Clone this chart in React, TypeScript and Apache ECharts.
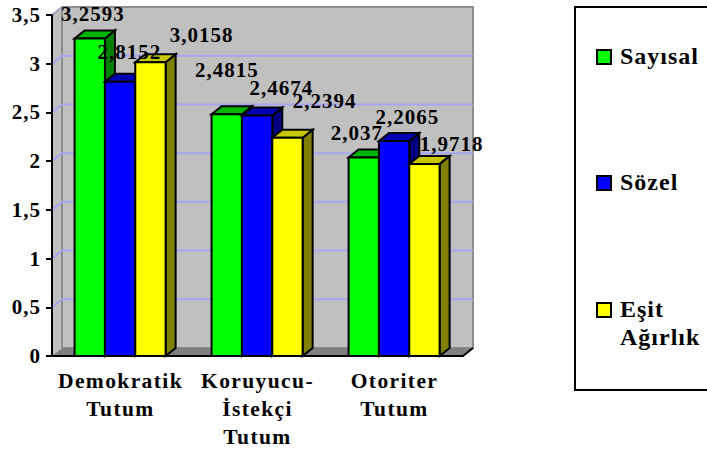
import React, { useEffect, useRef } from "react";
import * as echarts from "echarts";

const categories = ["Demokratik\nTutum", "Koruyucu-\nİstekçi\nTutum", "Otoriter\nTutum"];
const seriesNames = ["Sayısal", "Sözel", "Eşit\nAğırlık"];
const sayisal = [3.2593, 2.4815, 2.037];
const sozel = [2.8152, 2.4674, 2.2065];
const esit = [3.0158, 2.2394, 1.9718];
const gridTicks = [0, 0.5, 1, 1.5, 2, 2.5, 3, 3.5];

const front = ["#00ff00", "#0000ff", "#ffff00"];
const topFace = ["#00b400", "#0000b4", "#c8c800"];
const sideFace = ["#008000", "#000080", "#808000"];
const labelShift = [
  [[3, -24], [0, -44], [-7, -25]],
  [[9, -30], [24, -28], [13, -24]],
  [[51, -27], [37, -37], [27, -20]],
];
const legendY = [57, 183, 310];
const DX = 10;
const DY = -8;
const SERIF = '"Liberation Serif", serif';
const ink = { stroke: "#000", lineWidth: 2 };

function barSeries(values: number[], idx: number) {
  return {
    type: "custom",
    name: seriesNames[idx].replace("\n", " "),
    data: values.map((v, i) => [i, v]),
    encode: { x: 0, y: 1 },
    clip: false,
    renderItem: (_p: any, api: any) => {
      const cat = api.value(0);
      const val = api.value(1);
      const [cx, yTop] = api.coord([cat, val]);
      const [, yBase] = api.coord([cat, 0]);
      const w = api.size([1, 0])[0] * 0.2215;
      const l = cx - 0.4 + (idx - 1.5) * w;
      const r = l + w;
      const [sx, sy] = labelShift[idx][cat];
      return {
        type: "group",
        children: [
          {
            type: "polygon",
            shape: { points: [[r, yBase], [r + DX, yBase + DY], [r + DX, yTop + DY], [r, yTop]] },
            style: { fill: sideFace[idx], ...ink },
          },
          {
            type: "polygon",
            shape: { points: [[l, yTop], [l + DX, yTop + DY], [r + DX, yTop + DY], [r, yTop]] },
            style: { fill: topFace[idx], ...ink },
          },
          {
            type: "rect",
            shape: { x: l, y: yTop, width: w, height: yBase - yTop },
            style: { fill: front[idx], ...ink },
          },
          {
            type: "text",
            x: cx - 0.2 + (idx - 1) * w + sx,
            y: yTop + sy,
            z2: 100,
            style: {
              text: String(val).replace(".", ","),
              font: `bold 21px ${SERIF}`,
              fill: "#000",
              align: "center",
              verticalAlign: "middle",
            },
          },
        ],
      };
    },
  };
}

const wallSeries = {
  type: "custom",
  z: -1,
  silent: true,
  clip: false,
  data: [[0, 0]],
  encode: { x: 0, y: 1 },
  renderItem: (_p: any, api: any) => {
    const halfCat = api.size([1, 0])[0] / 2;
    const [x0c, y0] = api.coord([0, 0]);
    const [x2c] = api.coord([2, 0]);
    const [, yMax] = api.coord([0, 3.5]);
    const left = x0c - halfCat;
    const right = x2c + halfCat;
    const grey = "#c0c0c0";
    const edge = "#8c8c8c";
    const lines = gridTicks.slice(1, -1).map((t) => {
      const y = api.coord([0, t])[1];
      return {
        type: "polyline",
        shape: { points: [[left, y], [left + DX, y + DY], [right + DX, y + DY]] },
        style: { stroke: "#a6a6f2", lineWidth: 2, fill: "none" },
      };
    });
    return {
      type: "group",
      children: [
        {
          type: "polygon",
          shape: { points: [[left, yMax], [left + DX, yMax + DY], [left + DX, y0 + DY], [left, y0]] },
          style: { fill: grey, stroke: "none" },
        },
        {
          type: "rect",
          shape: { x: left + DX, y: yMax + DY, width: right - left, height: y0 - yMax },
          style: { fill: grey, stroke: edge, lineWidth: 2 },
        },
        {
          type: "line",
          shape: { x1: left, y1: yMax, x2: left + DX, y2: yMax + DY },
          style: { stroke: "#a0a0c8", lineWidth: 2 },
        },
        ...lines,
        {
          type: "polygon",
          shape: { points: [[left, y0], [left + DX, y0 + DY], [right + DX, y0 + DY], [right, y0]] },
          style: { fill: "#808080", stroke: "none" },
        },
        {
          type: "line",
          shape: { x1: right, y1: y0, x2: right + DX, y2: y0 + DY },
          style: { stroke: "#000", lineWidth: 2 },
        },
      ],
    };
  },
};

const legendGraphics = [
  {
    type: "rect",
    shape: { x: 575, y: 7, width: 160, height: 383 },
    style: { fill: "#fff", stroke: "#000", lineWidth: 2 },
  },
  ...seriesNames.flatMap((name, i) => [
    {
      type: "rect",
      shape: { x: 597, y: legendY[i] - 7, width: 14, height: 14 },
      style: { fill: front[i], stroke: "#000", lineWidth: 2 },
    },
    {
      type: "text",
      x: 620,
      y: legendY[i] - 15,
      style: {
        text: name,
        font: `bold 24px ${SERIF}`,
        lineHeight: 28,
        fill: "#000",
        align: "left",
        verticalAlign: "top",
      },
    },
  ]),
];

export default function App() {
  const ref = useRef<HTMLDivElement>(null);
  useEffect(() => {
    document.body.style.margin = "0";
    const chart = echarts.init(ref.current!, undefined, { renderer: "svg" });
    chart.setOption({
      animation: false,
      backgroundColor: "#fff",
      textStyle: { fontFamily: SERIF },
      grid: { left: 52, right: 244, top: 15, bottom: 93 },
      xAxis: {
        type: "category",
        data: categories,
        axisLine: { lineStyle: { color: "#000", width: 2 } },
        axisTick: { alignWithLabel: false, length: 6, lineStyle: { color: "#000", width: 2 } },
        axisLabel: {
          interval: 0,
          margin: 11,
          color: "#000",
          fontFamily: SERIF,
          fontWeight: "bold",
          fontSize: 21.5,
          lineHeight: 28,
        },
      },
      yAxis: {
        type: "value",
        min: 0,
        max: 3.5,
        interval: 0.5,
        splitLine: { show: false },
        axisLine: { show: true, lineStyle: { color: "#000", width: 2 } },
        axisTick: { show: true, length: 6, lineStyle: { color: "#000", width: 2 } },
        axisLabel: {
          margin: 11,
          color: "#000",
          fontFamily: SERIF,
          fontWeight: "bold",
          fontSize: 21,
          formatter: (v: number) => String(v).replace(".", ","),
        },
      },
      graphic: legendGraphics,
      series: [wallSeries, barSeries(sayisal, 0), barSeries(sozel, 1), barSeries(esit, 2)],
    });
    return () => chart.dispose();
  }, []);
  return (
    <>
      <style>{`
        svg text { letter-spacing: 1px; }
        svg text[style*="21.5px"] { letter-spacing: 1.4px; }
      `}</style>
      <div ref={ref} style={{ position: "absolute", left: 0, top: 0, width: 707, height: 451, overflow: "hidden" }} />
    </>
  );
}
